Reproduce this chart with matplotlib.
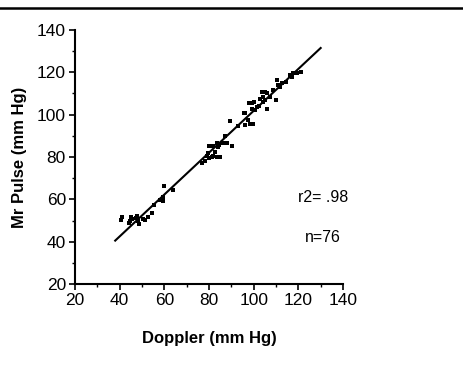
import matplotlib
matplotlib.use("Agg")
import matplotlib.pyplot as plt
from matplotlib.ticker import MultipleLocator
from matplotlib.lines import Line2D

plt.rcParams['font.family'] = ['Liberation Sans', 'DejaVu Sans']

# Doppler (x) vs Mr Pulse (y)
doppler = [40.6, 41, 44.6, 45, 45.5, 47.3, 47.8, 48.2, 48.7, 50.5, 51.3, 52.7, 54.5, 44,
           55.4, 58, 59.4, 60, 59.4, 64,
           76.9, 78.2, 79.1, 80, 81.3, 81.8, 83.6, 84.9, 80, 81.8, 83.6, 84.5, 86.3, 88, 90.3,
           87.2, 84, 85.8, 89.4, 82.5, 79.5,
           95.7, 96.1, 98.4, 97.5, 99.7, 96.1, 97.9, 99.3, 100.2, 99.3, 100.6, 102.5,
           103.7, 105, 106, 104.2, 105, 104.2, 106, 110, 107.5, 102.8, 101.5,
           110.5, 111, 111.8, 112.7, 116.3, 117.6, 119.4, 117.2, 114.5, 108.5, 121, 93]
pulse = [50.3, 51.5, 49.9, 51.8, 50.8, 51.3, 52.2, 49.9, 48.4, 50.8, 50.3, 51.8, 53.5, 49,
         57.4, 59.8, 59.3, 66.4, 61, 64.5,
         77.3, 78.3, 80.7, 79.7, 80.2, 80.7, 80.2, 80.2, 85.4, 85.4, 86.4, 85.9, 86.8, 86.4, 85.4,
         89.7, 84.5, 86.4, 96.8, 82.5, 82,
         101, 94.9, 95.8, 97.3, 95.8, 100.6, 105.3, 105.3, 105.8, 102.9, 102, 104,
         110.5, 110.5, 110, 108.2, 106.7, 105.8, 102.9, 106.7, 108.5, 107.5, 103.5,
         116.2, 113.8, 112.9, 114.8, 118.6, 119.5, 119.5, 117.6, 115.5, 111.5, 120, 94.5]

fit_x = [38, 130]
fit_y = [40.5, 131.5]

x_ticks = [20, 40, 60, 80, 100, 120, 140]
y_ticks = [20, 40, 60, 80, 100, 120, 140]

fig = plt.figure(figsize=(4.64, 3.67), dpi=100)
ax = fig.add_axes([75/464, 1-284/367, (343-75)/464, (284-30)/367])

ax.scatter(doppler, pulse, marker='s', s=7, color='black', linewidths=0)
ax.plot(fit_x, fit_y, color='black', lw=1.5)

ax.set_xlim(20, 140)
ax.set_ylim(20, 140)
ax.set_xticks(x_ticks)
ax.set_yticks(y_ticks)
ax.xaxis.set_minor_locator(MultipleLocator(10))
ax.yaxis.set_minor_locator(MultipleLocator(10))
ax.tick_params(which='major', direction='out', length=4, width=1.2, labelsize=12.5, pad=2.5)
ax.tick_params(which='minor', direction='out', length=2.5, width=1.0)
ax.spines['top'].set_visible(False)
ax.spines['right'].set_visible(False)
ax.spines['left'].set_linewidth(1.5)
ax.spines['bottom'].set_linewidth(1.5)

ax.set_xlabel('Doppler (mm Hg)', fontsize=12, fontweight='bold')
ax.set_ylabel('Mr Pulse (mm Hg)', fontsize=12, fontweight='bold')
ax.xaxis.set_label_coords(0.5, (1-338/367 - (1-284/367)) / ((284-30)/367), transform=ax.transAxes)
ax.yaxis.set_label_coords((20-75)/(343-75), 0.5, transform=ax.transAxes)
ax.xaxis.label.set_va('center')
ax.yaxis.label.set_va('center')

ax.text(131, 61, 'r2= .98', fontsize=11.5, ha='center', va='center')
ax.text(131, 42, 'n=76', fontsize=11.5, ha='center', va='center')

fig.add_artist(Line2D([0, 1], [1-8/367, 1-8/367], transform=fig.transFigure, color='black', lw=1.8))

fig.savefig('out.png', dpi=100)
